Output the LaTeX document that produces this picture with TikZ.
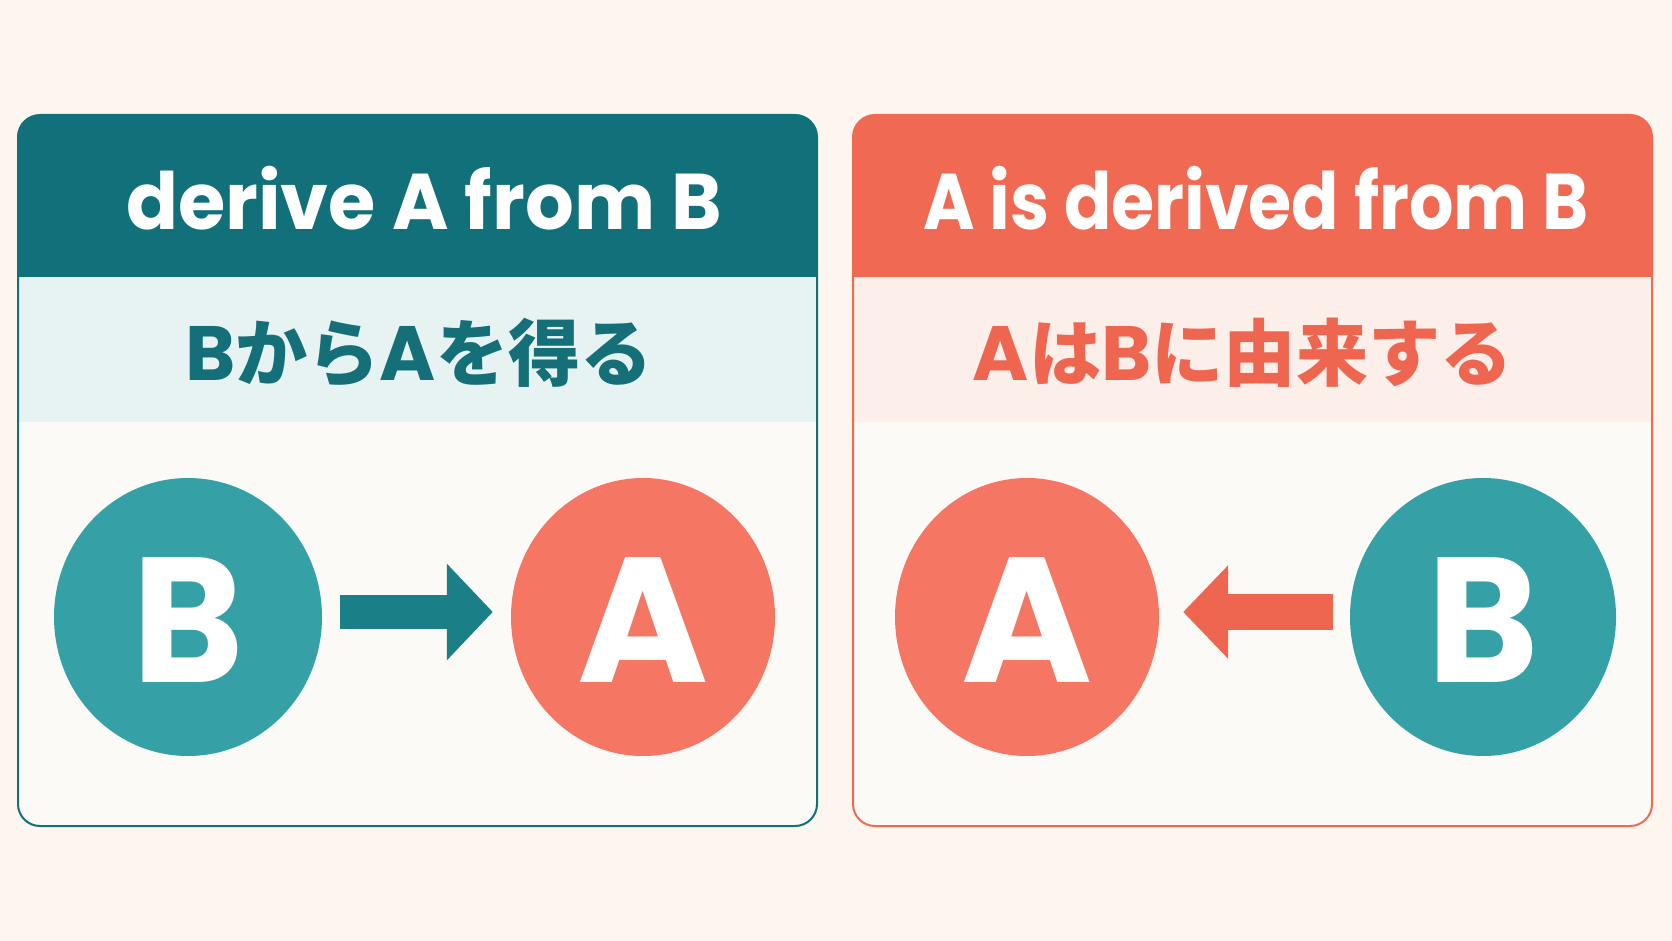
\documentclass[tikz,border=0pt]{standalone}
\usepackage{fontspec}
\setmainfont{Poppins}
\newfontfamily\jp{Noto Sans CJK JP}
\usetikzlibrary{shapes.geometric,arrows.meta,calc}
\definecolor{pagebg}{HTML}{FDF6EE}
\definecolor{bodybg}{HTML}{FCFAF7}
\definecolor{tealhead}{HTML}{12707A}
\definecolor{tealsub}{HTML}{E6F3F2}
\definecolor{tealcirc}{HTML}{35A0A5}
\definecolor{tealarrow}{HTML}{1A7F86}
\definecolor{tealtext}{HTML}{146F78}
\definecolor{corhead}{HTML}{F06A53}
\definecolor{corsub}{HTML}{FCEEE8}
\definecolor{corcirc}{HTML}{F47663}
\definecolor{corarrow}{HTML}{EF6650}
\definecolor{cortext}{HTML}{EE6650}
\newcommand{\jk}[1]{{\jp\fontsize{73}{73}\selectfont #1}}
\begin{document}
\begin{tikzpicture}[x=1pt,y=-1pt,
  titletext/.style={anchor=base,text=white,font=\bfseries\fontsize{79}{79}\selectfont,inner sep=0},
  subtext/.style={anchor=base,inner sep=0,font=\bfseries\fontsize{77}{77}\selectfont},
  ball/.style={ellipse,inner sep=0,minimum width=266,minimum height=278,text=white,font=\bfseries\fontsize{178}{178}\selectfont},
  letter/.style={yshift=-3},
  blockarrow/.style={line width=34,-{Triangle[width=94pt,length=46pt]}}]
\useasboundingbox (0,0) rectangle (1672,941);
\fill[pagebg] (0,0) rectangle (1672,941);
% left panel
\fill[bodybg,rounded corners=22] (18,115) rectangle (817,826);
\fill[tealhead,rounded corners=22] (18,115) rectangle (817,320);
\fill[tealsub] (18,277) rectangle (817,422);
\draw[tealhead,line width=2,rounded corners=22] (18,115) rectangle (817,826);
% right panel
\fill[bodybg,rounded corners=22] (853,115) rectangle (1652,826);
\fill[corhead,rounded corners=22] (853,115) rectangle (1652,320);
\fill[corsub] (853,277) rectangle (1652,422);
\draw[corhead,line width=2,rounded corners=22] (853,115) rectangle (1652,826);
% titles
\node[titletext] (lt) at (424,230) {\scalebox{0.97}[1]{derive A from B}};
\node[titletext] (rt) at (1256,230) {\scalebox{0.885}[1]{A is derived from B}};
\node[subtext,text=tealtext] (ls) at (419,380) {\scalebox{0.99}[1]{B\jk{から}A\jk{を得る}}};
\node[subtext,text=cortext] (rs) at (1243,380) {\scalebox{0.99}[1]{A\jk{は}B\jk{に由来する}}};
% circles
\node[ball,fill=tealcirc,minimum width=268] (lb) at (188,617) {};
\node[ball,fill=corcirc,minimum width=264] (la) at (643,617) {};
\node[ball,fill=corcirc,minimum width=264] (ra) at (1027,617) {};
\node[ball,fill=tealcirc] (rb) at (1483,617) {};
\node[ball,letter,minimum width=0,minimum height=0] (lbt) at (lb) {\scalebox{0.95}[1]{B}};
\node[ball,letter,minimum width=0,minimum height=0] (lat) at (la) {A};
\node[ball,letter,minimum width=0,minimum height=0] (rat) at (ra) {A};
\node[ball,letter,minimum width=0,minimum height=0] (rbt) at (rb) {\scalebox{0.95}[1]{B}};
% arrows
\draw[blockarrow,tealarrow] ($(lb.east)+(18,-5)$) -- ($(la.west)+(-18,-5)$);
\draw[blockarrow,corarrow,line width=36,-{Triangle[width=91pt,length=45pt]}] ($(rb.west)+(-17,-5)$) -- ($(ra.east)+(24,-5)$);
\end{tikzpicture}
\end{document}
